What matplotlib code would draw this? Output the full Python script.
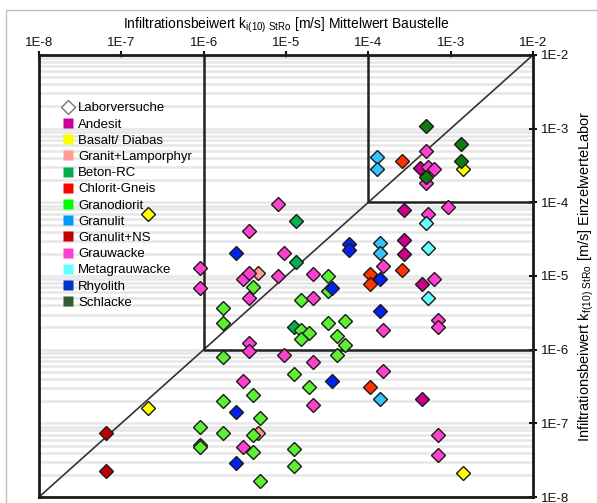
import matplotlib
matplotlib.use("Agg")
import matplotlib.pyplot as plt
from matplotlib.lines import Line2D
from matplotlib.patches import Rectangle
from matplotlib.ticker import LogLocator, FixedLocator

plt.rcParams['font.family'] = ['Liberation Sans', 'DejaVu Sans']

# Mittelwert Baustelle (x) / Einzelwerte Labor (y), m/s
andesit_x = [2.74e-4, 2.74e-4, 2.74e-4, 4.3e-4, 4.5e-4, 4.5e-4]
andesit_y = [7.8e-5, 3.1e-5, 2.0e-5, 2.9e-4, 7.7e-6, 2.15e-7]

basalt_x = [2.1e-7, 2.1e-7, 1.42e-3, 1.42e-3]
basalt_y = [6.9e-5, 1.62e-7, 2.84e-4, 2.13e-8]

granit_x = [4.6e-6, 4.6e-6]
granit_y = [1.1e-5, 7.3e-8]

beton_x = [1.34e-5, 1.34e-5, 1.24e-5]
beton_y = [5.6e-5, 1.55e-5, 2.04e-6]

chlorit_x = [2.6e-4, 2.6e-4, 1.06e-4, 1.06e-4, 1.06e-4]
chlorit_y = [3.65e-4, 1.21e-5, 1.05e-5, 7.7e-6, 3.1e-7]

granodiorit_x = [4.0e-6, 1.73e-6, 1.73e-6, 1.73e-6, 4.0e-6, 1.73e-6, 4.8e-6,
                 9.0e-7, 1.73e-6, 4.0e-6, 9.0e-7, 9.0e-7, 4.0e-6, 4.8e-6,
                 1.24e-5, 1.89e-5, 1.24e-5, 1.24e-5, 1.51e-5, 3.26e-5, 3.26e-5,
                 3.26e-5, 5.2e-5, 1.51e-5, 1.89e-5, 1.51e-5, 4.2e-5, 5.2e-5,
                 4.2e-5]
granodiorit_y = [7.2e-6, 3.7e-6, 2.31e-6, 8.0e-7, 2.44e-7, 2.02e-7, 1.17e-7,
                 8.8e-8, 7.3e-8, 7.0e-8, 5.1e-8, 4.7e-8, 4.1e-8, 1.66e-8,
                 4.7e-7, 3.1e-7, 4.5e-8, 2.65e-8, 4.7e-6, 9.9e-6, 6.3e-6,
                 2.31e-6, 2.46e-6, 1.86e-6, 1.69e-6, 1.40e-6, 1.54e-6, 1.16e-6,
                 8.4e-7]

granulit_x = [1.26e-4, 1.26e-4, 1.38e-4, 1.38e-4, 1.38e-4]
granulit_y = [4.1e-4, 2.84e-4, 2.8e-5, 2.03e-5, 2.15e-7]

granulit_ns_x = [6.6e-8, 6.6e-8]
granulit_ns_y = [7.3e-8, 2.26e-8]

grauwacke_x = [5.0e-4, 5.3e-4, 6.3e-4, 5.0e-4, 9.3e-4, 5.3e-4, 7.9e-6, 3.6e-6,
               9.4e-6, 9.0e-7, 9.0e-7, 1.49e-4, 3.0e-6, 3.6e-6, 3.6e-6, 7.9e-6,
               2.1e-5, 2.1e-5, 6.3e-4, 1.49e-4, 7.1e-4, 7.1e-4, 3.6e-6, 3.6e-6,
               9.4e-6, 2.1e-5, 3.0e-6, 1.49e-4, 2.1e-5, 3.0e-6, 7.1e-4, 7.1e-4]
grauwacke_y = [5.0e-4, 3.0e-4, 2.84e-4, 1.83e-4, 8.7e-5, 6.9e-5, 9.5e-5, 4.1e-5,
               2.03e-5, 1.29e-5, 6.8e-6, 1.37e-5, 9.0e-6, 1.1e-5, 5.1e-6, 9.9e-6,
               1.05e-5, 5.1e-6, 9.0e-6, 1.86e-6, 2.54e-6, 2.04e-6, 1.24e-6, 9.6e-7,
               8.4e-7, 6.8e-7, 3.7e-7, 5.2e-7, 1.78e-7, 4.7e-8, 7.0e-8, 3.7e-8]

metagrauwacke_x = [5.0e-4, 5.3e-4, 5.3e-4]
metagrauwacke_y = [5.25e-5, 2.37e-5, 5.1e-6]

rhyolith_x = [2.5e-6, 5.9e-5, 5.9e-5, 3.6e-5, 1.38e-4, 1.38e-4, 3.6e-5, 2.5e-6, 2.5e-6]
rhyolith_y = [2.03e-5, 2.73e-5, 2.26e-5, 6.8e-6, 9.0e-6, 3.36e-6, 3.7e-7, 1.43e-7, 2.9e-8]

schlacke_x = [5.0e-4, 1.34e-3, 1.34e-3, 5.0e-4]
schlacke_y = [1.1e-3, 6.2e-4, 3.65e-4, 2.21e-4]

series = [
    ('Andesit', andesit_x, andesit_y, '#C8008C'),
    ('Basalt/ Diabas', basalt_x, basalt_y, '#FFFF00'),
    ('Granit+Lamporphyr', granit_x, granit_y, '#FF9A94'),
    ('Beton-RC', beton_x, beton_y, '#00B050'),
    ('Chlorit-Gneis', chlorit_x, chlorit_y, '#FF3300'),
    ('Granodiorit', granodiorit_x, granodiorit_y, '#5CF032'),
    ('Granulit', granulit_x, granulit_y, '#33C4FF'),
    ('Granulit+NS', granulit_ns_x, granulit_ns_y, '#C00000'),
    ('Grauwacke', grauwacke_x, grauwacke_y, '#FF40D0'),
    ('Metagrauwacke', metagrauwacke_x, metagrauwacke_y, '#66FFFF'),
    ('Rhyolith', rhyolith_x, rhyolith_y, '#0022EE'),
    ('Schlacke', schlacke_x, schlacke_y, '#127A12'),
]
legend_colors = {'Granodiorit': '#00FF00', 'Granulit': '#0099FF',
                 'Chlorit-Gneis': '#FF0000', 'Rhyolith': '#0033CC',
                 'Schlacke': '#2F5F2F', 'Andesit': '#CC0099'}

decades = [1e-8, 1e-7, 1e-6, 1e-5, 1e-4, 1e-3, 1e-2]
tick_labels = ['1E-8', '1E-7', '1E-6', '1E-5', '1E-4', '1E-3', '1E-2']

fig = plt.figure(figsize=(5.97, 5.03), dpi=100)
fig.patches.append(Rectangle((0.010, -0.01), 1.0, 0.99, transform=fig.transFigure,
                             fill=False, edgecolor='#C0C0C0', linewidth=1.0))
ax = fig.add_axes([0.0653, 0.0119, 0.8275, 0.8788])
ax.set_xscale('log')
ax.set_yscale('log')
ax.set_xlim(1e-8, 1e-2)
ax.set_ylim(1e-8, 1e-2)

# light horizontal grid at minor ticks
ax.yaxis.set_minor_locator(LogLocator(base=10, subs=range(2, 10)))
ax.yaxis.grid(True, which='both', color='#E6E6E6', linewidth=1.8, zorder=0)
ax.set_axisbelow(True)

# diagonal and class boundaries
ax.plot([1e-8, 1e-2], [1e-8, 1e-2], color='#333333', linewidth=1.2, zorder=2)
ax.plot([1e-6, 1e-6, 1e-2], [1e-2, 1e-6, 1e-6], color='#222222', linewidth=1.8, zorder=2)
ax.plot([1e-4, 1e-4, 1e-2], [1e-2, 1e-4, 1e-4], color='#222222', linewidth=1.8, zorder=2)

for name, xs, ys, col in series:
    ax.plot(xs, ys, linestyle='none', marker='D', markersize=7.2,
            markerfacecolor=col, markeredgecolor='#1A1A1A', markeredgewidth=1.0,
            zorder=3)

ax.xaxis.set_major_locator(FixedLocator(decades))
ax.yaxis.set_major_locator(FixedLocator(decades))
ax.xaxis.set_minor_locator(FixedLocator([]))
ax.set_xticklabels(tick_labels)
ax.set_yticklabels(tick_labels)
ax.xaxis.tick_top()
ax.yaxis.tick_right()
ax.tick_params(which='major', direction='inout', length=6, width=1.5,
               labelsize=9.5, pad=3, colors='#111111')
ax.tick_params(axis='x', pad=1)
ax.tick_params(axis='y', which='minor', length=0)
for sp in ax.spines.values():
    sp.set_linewidth(2.0)
    sp.set_color('#1A1A1A')

ax.set_xlabel(r'Infiltrationsbeiwert k$_{\mathregular{i(10)\ StRo}}$ [m/s] Mittelwert Baustelle',
              fontsize=10, labelpad=6)
ax.xaxis.set_label_position('top')
ax.set_ylabel(r'Infiltrationsbeiwert k$_{\mathregular{f(10)\ StRo}}$ [m/s] EinzelwerteLabor',
              fontsize=10.5, labelpad=5)
ax.yaxis.set_label_position('right')

handles = [Line2D([], [], linestyle='none', marker='D', markersize=7,
                  markerfacecolor='white', markeredgecolor='#777777',
                  markeredgewidth=1.0, label='Laborversuche')]
for name, xs, ys, col in series:
    handles.append(Line2D([], [], linestyle='none', marker='s', markersize=7.5,
                          markerfacecolor=legend_colors.get(name, col),
                          markeredgecolor='none', label=name))
ax.legend(handles=handles, loc='upper left', bbox_to_anchor=(0.035, 0.905),
          frameon=False, fontsize=9.5, labelspacing=0.3, handletextpad=0.25,
          handlelength=1.0, borderaxespad=0)

fig.savefig('out.png', dpi=100)
